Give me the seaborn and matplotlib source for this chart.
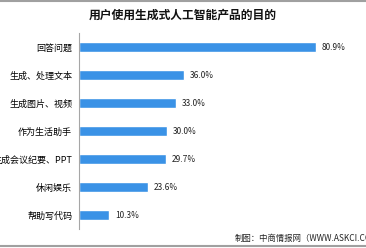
import matplotlib
matplotlib.use("Agg")
import matplotlib.pyplot as plt
import seaborn as sns
import pandas as pd
from matplotlib.lines import Line2D

categories = ["回答问题", "生成、处理文本", "生成图片、视频", "作为生活助手",
              "生成会议纪要、PPT", "休闲娱乐", "帮助写代码"]
values = [80.9, 36.0, 33.0, 30.0, 29.7, 23.6, 10.3]
title = "用户使用生成式人工智能产品的目的"
footer = "制图：中商情报网（WWW.ASKCI.COM）"

sns.set_style("white")
plt.rcParams['font.family'] = ['Noto Sans CJK SC', 'DejaVu Sans']

df = pd.DataFrame({"cat": categories, "val": values})

fig = plt.figure(figsize=(3.66, 2.48), dpi=100)
W, H = 366, 248
ax = fig.add_axes([79 / W, (H - 229) / H, 287 / W, (229 - 33) / H])

sns.barplot(data=df, x="val", y="cat", orient="h", color="#3A92E6",
            width=0.38, saturation=1, ax=ax)

ax.set_xlim(0, 98)
ax.set_ylim(len(categories) - 0.5, -0.5)
ax.set_xlabel("")
ax.set_ylabel("")
ax.set_xticks([])
for s in ["top", "right", "bottom"]:
    ax.spines[s].set_visible(False)
ax.spines["left"].set_color("#A6A6A6")
ax.spines["left"].set_linewidth(0.8)

ax.tick_params(axis="y", which="major", length=0, labelsize=6.5, pad=5, colors="#000000")
ax.set_yticks([i - 0.5 for i in range(len(categories) + 1)], minor=True)
ax.tick_params(axis="y", which="minor", length=3, color="#A6A6A6", width=0.8)

for i, v in enumerate(values):
    ax.text(v + 2, i, f"{v:.1f}%", va="center", ha="left", fontsize=6, color="#222222")

fig.text(0.5, (H - 15) / H, title, ha="center", va="center", fontsize=8.5,
         fontweight="bold", color="#111111")
fig.text(235 / W, (H - 238) / H, footer, ha="left", va="center", fontsize=6,
         color="#222222")

fig.add_artist(Line2D([0, 1], [1 - 1 / H, 1 - 1 / H], color="#A0A0A0", lw=1.5,
                      transform=fig.transFigure))
fig.add_artist(Line2D([0, 1], [2 / H, 2 / H], color="#A0A0A0", lw=1.5,
                      transform=fig.transFigure))

fig.savefig("out.png", dpi=100)
